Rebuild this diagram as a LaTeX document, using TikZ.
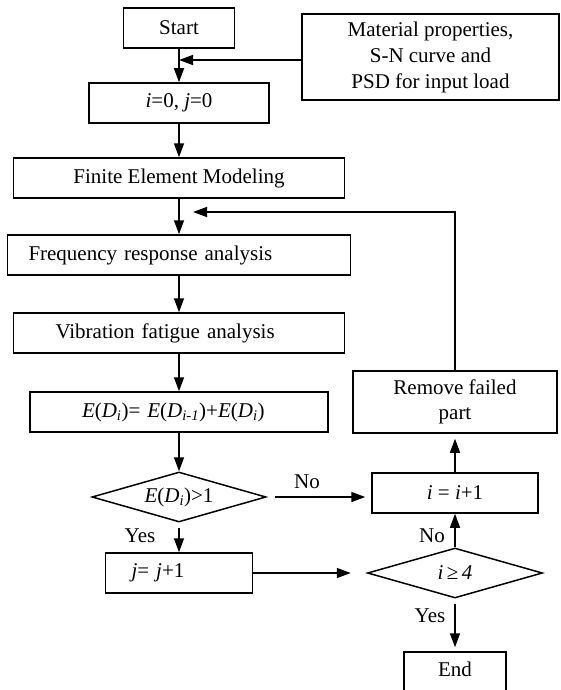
\documentclass[tikz,border=0pt]{standalone}
\usepackage{fontspec}
\setmainfont{Liberation Serif}
\usetikzlibrary{shapes,arrows.meta}
\tikzset{
    block/.style = {draw, rectangle, line width=1.5pt, inner sep=0pt,
        align=center, minimum height=40pt},
    decision/.style = {draw, diamond, line width=1.5pt, inner sep=0pt,
        shape aspect=3.5, minimum height=50pt},
    arrow/.style = {draw, line width=1.5pt, -{Triangle[length=14pt,width=10pt]}},
    lab/.style = {anchor=base}
}
\newcommand{\ED}[1]{\textit{E}(\textit{D}\textsubscript{\textit{#1}})}

\begin{document}
\begin{tikzpicture}[x=1pt,y=-1pt,every node/.style={font=\fontsize{21}{26}\selectfont}]
        \useasboundingbox (0,0) rectangle (561,690);
        \clip (0,0) rectangle (561,690);
        % main column
        \node [block, minimum width=111pt] (start) at (179,28) {Start};
        \node [block, minimum width=257pt, minimum height=86pt] (material) at (430.5,57)
            {Material properties,\\ S-N curve and\\ PSD for input load};
        \node [block, minimum width=180pt] (init) at (179,103) {\textit{i}=0, \textit{j}=0};
        \node [block, minimum width=331pt] (fem) at (179,178) {Finite Element Modeling};
        \node [block, align=left, inner xsep=21pt, text width=301pt] (freq) at (179,255)
            {Frequency response analysis};
        \node [block, align=left, inner xsep=42pt, text width=247pt] (vib) at (179,333)
            {Vibration fatigue analysis};
        \node [block, align=left, inner xsep=52pt, text width=194pt] (update) at (179,412)
            {\ED{i}= \ED{i-1}+\ED{i}};
        \node [decision, minimum width=174pt] (check1) at (179,497) {\ED{i}>1};
        \node [block, align=left, inner xsep=26pt, text width=95pt] (jinc) at (179,573)
            {\textit{j}= \textit{j}+1};
        % right column
        \node [block, minimum width=204pt, minimum height=62pt, font=\fontsize{21}{25}\selectfont]
            (remove) at (455,402) {Remove failed\\ part};
        \node [block, minimum width=166pt] (next) at (455,493) {\textit{i} = \textit{i}+1};
        \node [decision, minimum width=175pt] (check2) at (455,573) {\textit{i}\,≥\,\textit{4}};
        \node [block, minimum width=102pt, minimum height=60pt] (end) at (455,682) {};
        \node (endtxt) at (455,669) {End};
        \coordinate (matin) at (179,60);
        \coordinate (loopin) at (193,212);
        % connectors
        \draw [arrow] (start) -- (init);
        \draw [arrow] (matin -| material.west) -- (matin);
        \draw [arrow] (init) -- (fem);
        \draw [arrow] (fem) -- (freq);
        \draw [arrow] (freq) -- (vib);
        \draw [arrow] (vib) -- (update);
        \draw [arrow] (update) -- (check1);
        \draw [arrow, shorten <=8pt, shorten >=6pt] (check1.east) -- (check1.east -| next.west);
        \draw [arrow, shorten <=5pt] (check1.south) -- (jinc.north);
        \draw [arrow, shorten >=16pt] (jinc.east) -- (check2.west);
        \draw [arrow] (check2.north) -- (next.south);
        \draw [arrow, shorten <=5pt, shorten >=4pt] (check2.south) -- (end.north);
        \draw [arrow, shorten >=5pt] (next.north) -- (remove.south);
        \draw [arrow] (remove.north) |- (loopin);
        % branch labels
        \node [lab] (no1) at (307,488) {No};
        \node [lab] (yes1) at (140,542) {Yes};
        \node [lab] (no2) at (432,542) {No};
        \node [lab] (yes2) at (430,622) {Yes};
    \end{tikzpicture}
\end{document}
